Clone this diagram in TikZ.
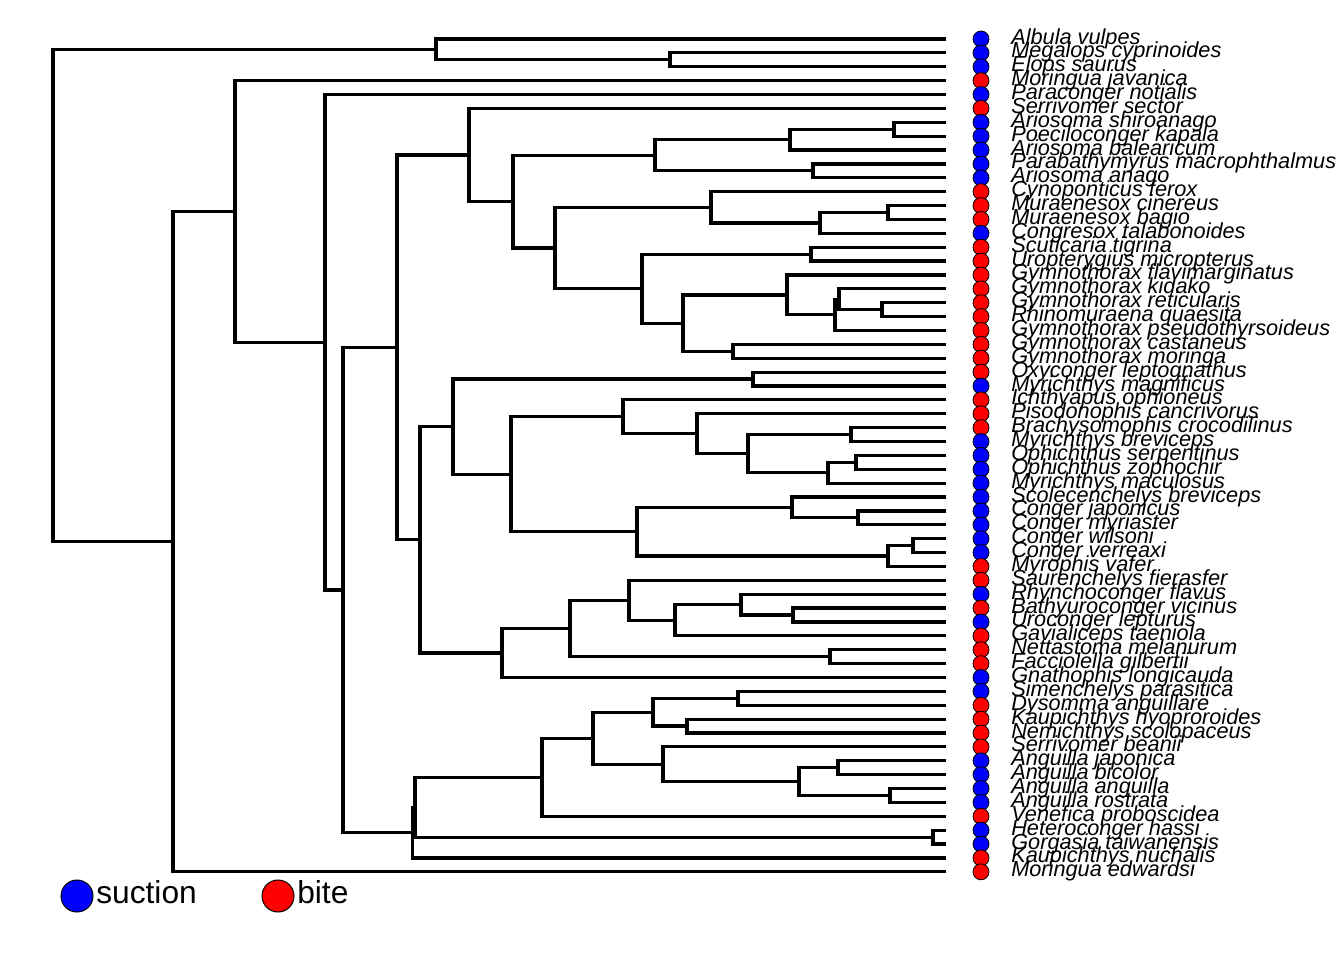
\documentclass[tikz,border=0pt]{standalone}
\usepackage{fontspec}
\setmainfont{Liberation Sans}
\usepackage{tikz}

\definecolor{suction}{RGB}{0,0,255}
\definecolor{bite}{RGB}{255,0,0}

\tikzset{
	branch/.style={every edge/.style={draw, line width=2.4pt, to path={|- (\tikztotarget)}}},
	tipdot/.style={circle, draw=black, line width=0.6pt, inner sep=0pt, minimum size=12pt},
	tiplabel/.style={anchor=base west, inner sep=0pt, font=\fontsize{16.3}{16}\selectfont\itshape},
	keydot/.style={circle, draw=black, line width=0.75pt, inner sep=0pt, minimum size=24pt},
	keylabel/.style={anchor=base west, inner sep=0pt, font=\fontsize{23.8}{24}\selectfont}
}

\begin{document}
\begin{tikzpicture}[x=0.75pt, y=-0.75pt]
			\useasboundingbox (0,0) rectangle (1344,960);
			%
			% tips: end of branch, dot and name
			\foreach \name/\col [count=\i] in {
					Albula vulpes/suction, Megalops cyprinoides/suction, Elops saurus/suction,
					Moringua javanica/bite, Paraconger notialis/suction, Serrivomer sector/bite,
					Ariosoma shiroanago/suction, Poeciloconger kapala/suction, Ariosoma balearicum/suction,
					Parabathymyrus macrophthalmus/suction, Ariosoma anago/suction, Cynoponticus ferox/bite,
					Muraenesox cinereus/bite, Muraenesox bagio/bite, Congresox talabonoides/suction,
					Scuticaria tigrina/bite, Uropterygius micropterus/bite, Gymnothorax flavimarginatus/bite,
					Gymnothorax kidako/bite, Gymnothorax reticularis/bite, Rhinomuraena quaesita/bite,
					Gymnothorax pseudothyrsoideus/bite, Gymnothorax castaneus/bite, Gymnothorax moringa/bite,
					Oxyconger leptognathus/bite, Myrichthys magnificus/suction, Ichthyapus ophioneus/bite,
					Pisodonophis cancrivorus/bite, Brachysomophis crocodilinus/bite, Myrichthys breviceps/suction,
					Ophichthus serpentinus/suction, Ophichthus zophochir/suction, Myrichthys maculosus/suction,
					Scolecenchelys breviceps/suction, Conger japonicus/suction, Conger myriaster/suction,
					Conger wilsoni/suction, Conger verreaxi/suction, Myrophis vafer/bite,
					Saurenchelys fierasfer/bite, Rhynchoconger flavus/suction, Bathyuroconger vicinus/bite,
					Uroconger lepturus/suction, Gavialiceps taeniola/bite, Nettastoma melanurum/bite,
					Facciolella gilbertii/bite, Gnathophis longicauda/suction, Simenchelys parasitica/suction,
					Dysomma anguillare/bite, Kaupichthys hyoproroides/bite, Nemichthys scolopaceus/bite,
					Serrivomer beanii/bite, Anguilla japonica/suction, Anguilla bicolor/suction,
					Anguilla anguilla/suction, Anguilla rostrata/suction, Venefica proboscidea/bite,
					Heteroconger hassi/suction, Gorgasia taiwanensis/suction, Kaupichthys nuchalis/bite,
					Moringua edwardsi/bite}{
				\coordinate (t\i) at (946, {39+13.88*(\i-1)});
				\node[tipdot, fill=\col] (d\i) at (981, {39+13.88*(\i-1)}) {};
				\node[tiplabel] (l\i) at (1011, {44+13.88*(\i-1)}) {\name};
			}
			%
			% inner nodes
			\coordinate (root) at (53,295.52);
			\coordinate (albula) at (436,49.41);
			\coordinate (elops) at (670,59.82);
			\coordinate (moriE) at (173,541.63);
			\coordinate (moriJ) at (235,211.45);
			\coordinate (parac) at (325,342.25);
			\coordinate (core) at (343,589.98);
			\coordinate (midA) at (397,347.41);
			\coordinate (serr) at (469,155.00);
			\coordinate (congA) at (513,201.61);
			\coordinate (ariC) at (655,155.25);
			\coordinate (ari2) at (790,139.63);
			\coordinate (ari1) at (894,129.22);
			\coordinate (parab) at (813,170.86);
			\coordinate (muraC) at (555,247.96);
			\coordinate (cyno) at (711,207.30);
			\coordinate (congr) at (820,222.91);
			\coordinate (murae) at (888,212.50);
			\coordinate (muraen) at (642,288.62);
			\coordinate (scut) at (811,254.14);
			\coordinate (gymC) at (683,323.11);
			\coordinate (flavi) at (787,294.91);
			\coordinate (pseudo) at (835,314.87);
			\coordinate (kidako) at (839,299.25);
			\coordinate (rhino) at (882,309.66);
			\coordinate (moringa) at (733,351.30);
			\coordinate (midB) at (420,539.83);
			\coordinate (ophiTop) at (453,426.67);
			\coordinate (oxy) at (753,379.06);
			\coordinate (ophiA) at (511,474.27);
			\coordinate (ichthy) at (623,416.80);
			\coordinate (piso) at (697,433.71);
			\coordinate (ophiB) at (748,453.67);
			\coordinate (brachy) at (851,434.58);
			\coordinate (ophiC) at (828,472.75);
			\coordinate (ophi) at (856,462.34);
			\coordinate (congerC) at (637,531.74);
			\coordinate (conger1) at (792,507.45);
			\coordinate (conger2) at (858,517.86);
			\coordinate (myro) at (888,556.03);
			\coordinate (verr) at (913,545.62);
			\coordinate (gnath) at (502,652.98);
			\coordinate (nettaC) at (570,628.47);
			\coordinate (saur) at (629,600.28);
			\coordinate (gavi) at (675,620.23);
			\coordinate (rhyn) at (741,604.61);
			\coordinate (bathy) at (793,615.02);
			\coordinate (netta) at (830,656.66);
			\coordinate (kaupN) at (412.5,832.55);
			\coordinate (hetB) at (415,807.17);
			\coordinate (vene) at (542,777.24);
			\coordinate (nemi) at (593,738.20);
			\coordinate (dyso) at (653,712.18);
			\coordinate (sime) at (738,698.30);
			\coordinate (kaup) at (687,726.06);
			\coordinate (angB) at (663,764.23);
			\coordinate (angC) at (799,781.58);
			\coordinate (angJ) at (838,767.70);
			\coordinate (angA) at (890,795.46);
			\coordinate (hete) at (933,837.10);
			%
			\path[branch]
				(root) edge (albula) edge (moriE)
				(albula) edge (t1) edge (elops)
				(elops) edge (t2) edge (t3)
				(moriE) edge (moriJ) edge (t61)
				(moriJ) edge (t4) edge (parac)
				(parac) edge (t5) edge (core)
				(core) edge (midA) edge (kaupN)
				(midA) edge (serr) edge (midB)
				(serr) edge (t6) edge (congA)
				(congA) edge (ariC) edge (muraC)
				(ariC) edge (ari2) edge (parab)
				(ari2) edge (ari1) edge (t9)
				(ari1) edge (t7) edge (t8)
				(parab) edge (t10) edge (t11)
				(muraC) edge (cyno) edge (muraen)
				(cyno) edge (t12) edge (congr)
				(congr) edge (murae) edge (t15)
				(murae) edge (t13) edge (t14)
				(muraen) edge (scut) edge (gymC)
				(scut) edge (t16) edge (t17)
				(gymC) edge (flavi) edge (moringa)
				(flavi) edge (t18) edge (pseudo)
				(pseudo) edge (kidako) edge (t22)
				(kidako) edge (t19) edge (rhino)
				(rhino) edge (t20) edge (t21)
				(moringa) edge (t23) edge (t24)
				(midB) edge (ophiTop) edge (gnath)
				(ophiTop) edge (oxy) edge (ophiA)
				(oxy) edge (t25) edge (t26)
				(ophiA) edge (ichthy) edge (congerC)
				(ichthy) edge (t27) edge (piso)
				(piso) edge (t28) edge (ophiB)
				(ophiB) edge (brachy) edge (ophiC)
				(brachy) edge (t29) edge (t30)
				(ophiC) edge (ophi) edge (t33)
				(ophi) edge (t31) edge (t32)
				(congerC) edge (conger1) edge (myro)
				(conger1) edge (t34) edge (conger2)
				(conger2) edge (t35) edge (t36)
				(myro) edge (verr) edge (t39)
				(verr) edge (t37) edge (t38)
				(gnath) edge (nettaC) edge (t47)
				(nettaC) edge (saur) edge (netta)
				(saur) edge (t40) edge (gavi)
				(gavi) edge (rhyn) edge (t44)
				(rhyn) edge (t41) edge (bathy)
				(bathy) edge (t42) edge (t43)
				(netta) edge (t45) edge (t46)
				(kaupN) edge (hetB) edge (t60)
				(hetB) edge (vene) edge (hete)
				(vene) edge (nemi) edge (t57)
				(nemi) edge (dyso) edge (angB)
				(dyso) edge (sime) edge (kaup)
				(sime) edge (t48) edge (t49)
				(kaup) edge (t50) edge (t51)
				(angB) edge (t52) edge (angC)
				(angC) edge (angJ) edge (angA)
				(angJ) edge (t53) edge (t54)
				(angA) edge (t55) edge (t56)
				(hete) edge (t58) edge (t59);
			%
			% legend
			\node[keydot, fill=suction] (ksuc) at (77,896) {};
			\node[keylabel] (ksuclab) at (96,903) {suction};
			\node[keydot, fill=bite] (kbite) at (278,896) {};
			\node[keylabel] (kbitelab) at (297,903) {bite};
		\end{tikzpicture}
\end{document}
